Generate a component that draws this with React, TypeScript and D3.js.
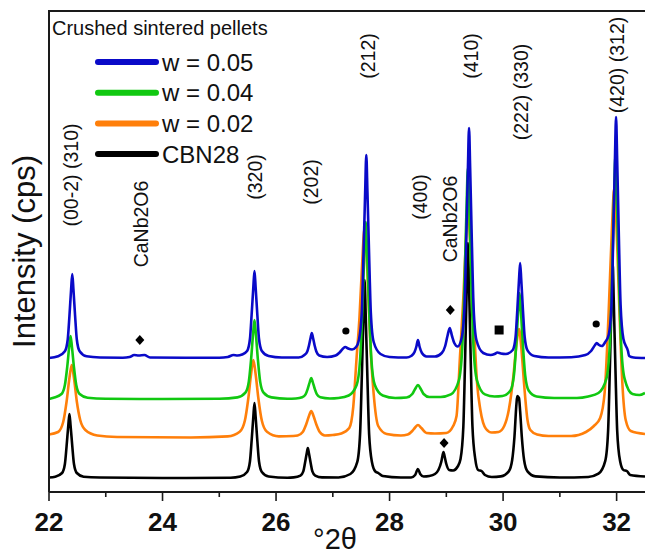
import React from "react";
import * as d3 from "d3";

type Pt = [number, number];

const X_DOMAIN: [number, number] = [22, 32.5];
const Y_DOMAIN: [number, number] = [0, 481];
const xMajorTicks = [22, 24, 26, 28, 30, 32];
const xMinorTicks = [23, 25, 27, 29, 31];

const seriesNames = ["w = 0.05", "w = 0.04", "w = 0.02", "CBN28"];
const seriesColors = ["#0a0ac8", "#11c811", "#ff7f0a", "#000000"];

const blueW005: Pt[] = [
  [22.0,134],[22.16,135.7],[22.28,140.7],[22.33,152.5],[22.36,176],[22.39,203],[22.41,218],[22.43,203],[22.46,176],[22.49,152.5],[22.54,140.7],[22.66,135.7],[22.9,134.5],[23.3,134.3],[23.42,135],[23.5,137],[23.58,136.5],[23.68,137],[23.78,134.5],[24.4,134.2],[25.0,134.3],[25.15,135],[25.25,137],[25.32,136.5],[25.4,137.5],[25.49,141],[25.54,153],[25.57,177.5],[25.6,205],[25.62,221],[25.64,205],[25.67,177.5],[25.70,153],[25.75,141],[25.87,136],[26.1,134.5],[26.4,134.5],[26.5,137],[26.55,140.5],[26.58,146.5],[26.61,154.5],[26.63,159],[26.65,154.5],[26.68,146.5],[26.71,140.5],[26.76,136.5],[26.9,135],[27.05,136.5],[27.12,139.5],[27.18,143.5],[27.22,145],[27.27,143.5],[27.34,142.5],[27.41,145],[27.46,152],[27.51,179],[27.54,236],[27.57,300],[27.59,337],[27.61,300],[27.64,236],[27.67,179],[27.72,150],[27.84,138],[28.0,135],[28.3,134.5],[28.38,136],[28.44,140],[28.47,145],[28.5,152],[28.53,145],[28.57,139],[28.65,135.5],[28.8,135.5],[28.92,139],[28.98,146],[29.02,156],[29.06,164],[29.10,156],[29.14,149],[29.2,145.5],[29.27,154],[29.32,185],[29.35,249],[29.38,323],[29.40,364],[29.42,323],[29.45,249],[29.48,185],[29.53,152],[29.65,139],[29.78,137],[29.85,138],[29.9,139.5],[29.96,138.5],[30.05,138],[30.17,142],[30.22,155],[30.25,181.5],[30.28,212],[30.30,229],[30.32,212],[30.35,181.5],[30.38,155],[30.43,141.6],[30.55,136],[30.8,134.5],[31.2,134.8],[31.45,137],[31.55,141],[31.62,147],[31.65,149],[31.69,147],[31.74,146],[31.8,150],[31.86,157],[31.91,187],[31.94,254],[31.97,331],[31.99,375],[32.01,331],[32.04,254],[32.07,187],[32.12,153],[32.2,141],[32.22,136],[32.3,134.5],[32.5,134]
];

const greenW004: Pt[] = [
  [22.0,93],[22.08,94.3],[22.22,98],[22.28,107],[22.32,124.5],[22.355,144.7],[22.38,156],[22.405,144.7],[22.44,124.5],[22.48,107],[22.54,98],[22.68,94.3],[23.0,93.2],[24.0,93],[25.0,93.3],[25.32,94.6],[25.46,99.3],[25.52,110.4],[25.56,132.5],[25.595,157.8],[25.62,172],[25.645,157.8],[25.68,132.5],[25.72,110.4],[25.78,99.3],[25.92,94.6],[26.2,93.2],[26.35,93.5],[26.46,94.7],[26.52,97.6],[26.56,103.5],[26.595,110.2],[26.62,114],[26.645,110.2],[26.68,103.5],[26.72,97.6],[26.78,94.7],[26.95,93.5],[27.1,94],[27.28,96.5],[27.42,107],[27.48,132],[27.52,181.5],[27.555,238],[27.58,270],[27.605,238],[27.64,181.5],[27.68,132],[27.74,107],[27.88,96.5],[28.1,94],[28.3,94.5],[28.4,98],[28.45,103],[28.5,107],[28.55,103],[28.6,98],[28.7,95],[28.9,95],[29.08,97.6],[29.22,111.5],[29.28,143.8],[29.32,208.5],[29.355,282.4],[29.38,324],[29.405,282.4],[29.44,208.5],[29.48,143.8],[29.54,111.5],[29.68,97.6],[29.85,95.5],[29.99,96],[30.13,101.5],[30.19,116.3],[30.23,146],[30.265,180],[30.29,199],[30.315,180],[30.35,146],[30.39,116.3],[30.45,101.5],[30.59,95.5],[30.9,94],[31.3,94],[31.5,95.5],[31.68,99],[31.82,113.4],[31.88,147.5],[31.92,215.5],[31.955,293],[31.98,337],[32.005,293],[32.04,215.5],[32.08,147.5],[32.14,113.4],[32.28,98],[32.4,97],[32.5,99]
];

const orangeW002: Pt[] = [
  [22.0,57.5],[22.16,60],[22.25,70],[22.31,90.5],[22.36,114],[22.40,127],[22.44,114],[22.49,90.5],[22.55,72],[22.64,62],[22.85,56.5],[23.2,55],[24.5,54.5],[25.15,55.6],[25.36,60.2],[25.45,71.2],[25.51,93],[25.56,118],[25.60,132],[25.64,118],[25.69,93],[25.75,71.2],[25.84,60.2],[26.05,55.6],[26.3,56],[26.38,56.5],[26.47,60],[26.53,67.5],[26.58,76],[26.62,81],[26.66,76],[26.71,67.5],[26.77,60],[26.86,56.5],[27.0,57],[27.15,58.5],[27.29,64],[27.36,85],[27.42,135],[27.47,175],[27.515,226],[27.56,264],[27.605,226],[27.66,150],[27.72,98],[27.8,66],[27.95,58],[28.2,56.5],[28.32,57.5],[28.4,61],[28.45,64.5],[28.5,67],[28.56,64],[28.65,59],[28.8,58.5],[29.0,59],[29.12,66],[29.18,76],[29.24,135],[29.30,195],[29.34,245],[29.38,285],[29.425,243],[29.48,175],[29.54,110],[29.6,82],[29.7,63],[29.8,59.5],[29.92,60],[30.02,66],[30.1,82],[30.18,115],[30.24,150],[30.28,163],[30.32,145],[30.37,108],[30.43,72],[30.48,62],[30.6,57.5],[30.8,56],[31.2,56],[31.46,60],[31.6,66],[31.71,74],[31.79,100],[31.86,180],[31.915,260],[31.96,305],[32.005,255],[32.05,180],[32.1,110],[32.16,72],[32.25,61],[32.5,58]
];

const blackCBN28: Pt[] = [
  [22.0,14.5],[22.11,15.3],[22.23,19],[22.28,28],[22.31,46],[22.34,66.5],[22.36,78],[22.38,66.5],[22.41,46],[22.44,28],[22.49,19],[22.61,15.3],[22.9,14.5],[24.0,14],[25.2,14.3],[25.37,15.5],[25.49,20],[25.54,30.5],[25.57,51.5],[25.60,75.5],[25.62,89],[25.64,75.5],[25.67,51.5],[25.70,30.5],[25.75,20],[25.87,15.5],[26.2,14.3],[26.31,14.6],[26.43,16.4],[26.48,20.6],[26.51,29],[26.54,38.6],[26.56,44],[26.58,38.6],[26.61,29],[26.64,20.6],[26.69,16.4],[26.81,14.6],[27.1,14.5],[27.31,18],[27.43,29.8],[27.48,57.6],[27.51,113],[27.54,176],[27.56,212],[27.58,176],[27.61,113],[27.64,57.6],[27.69,29.8],[27.75,20.5],[27.8,19],[27.88,16],[28.2,14.5],[28.38,14.5],[28.45,17],[28.5,23],[28.54,18],[28.6,15.5],[28.7,16],[28.8,18],[28.86,22],[28.91,30],[28.93,35.5],[28.95,40],[28.97,35.5],[29.0,28],[29.05,22],[29.12,21.5],[29.2,25.5],[29.25,33],[29.30,65.7],[29.33,131.5],[29.36,206.7],[29.38,249],[29.40,206.7],[29.43,131.5],[29.46,65.7],[29.51,32.8],[29.56,22],[29.62,21],[29.68,17],[29.8,15],[29.96,15.6],[30.1,20.6],[30.16,32],[30.2,55],[30.235,88],[30.25,96],[30.28,94],[30.30,81],[30.33,55],[30.37,32],[30.43,20.6],[30.57,15.6],[31.0,14.5],[31.5,15],[31.68,18.3],[31.80,31.2],[31.85,61.3],[31.88,121.5],[31.91,190],[31.93,229],[31.95,190],[31.98,121.5],[32.01,61.3],[32.06,31.2],[32.12,22],[32.18,21],[32.24,17],[32.5,15.5]
];

const seriesData = [blueW005, greenW004, orangeW002, blackCBN28];

// peak annotations (vertical text)
const peakLabelText = ["(00-2) (310)", "CaNb2O6", "(320)", "(202)", "(212)", "(400)", "CaNb2O6", "(410)", "(222) (330)", "(420) (312)"];
const peakLabelX = [22.39, 23.62, 25.63, 26.62, 27.62, 28.54, 29.07, 29.43, 30.32, 32.0];
const peakLabelY = [317, 268, 315, 310, 436, 295, 273, 436, 400, 427];

// phase markers
const diamondMarks: Pt[] = [[23.6, 152], [29.07, 182], [28.96, 49]];
const dotMarks: Pt[] = [[27.23, 161], [31.64, 168]];
const squareMarks: Pt[] = [[29.93, 162]];

const W = 645, H = 554;
const L = 49, R = 645, T = 11, B = 492;
const FONT = "'Liberation Sans', Arial, Helvetica, sans-serif";

export default function App() {
  const x = d3.scaleLinear().domain(X_DOMAIN).range([L, R]);
  const y = d3.scaleLinear().domain(Y_DOMAIN).range([B, T]);
  const line = d3.line<Pt>().x(d => x(d[0])).y(d => y(d[1])).curve(d3.curveMonotoneX);
  const drawOrder = [3, 2, 1, 0];

  return (
    <svg width={W} height={H} style={{ position: "absolute", left: 0, top: 0, background: "#fff" }} fontFamily={FONT}>
      <defs>
        <clipPath id="plotclip">
          <rect x={L} y={T} width={R - L} height={B - T} />
        </clipPath>
      </defs>
      <rect x={0} y={0} width={W} height={H} fill="#fff" />
      <g clipPath="url(#plotclip)">
        {drawOrder.map(i => (
          <path key={i} d={line(seriesData[i]) || ""} fill="none" stroke={seriesColors[i]} strokeWidth={2.6} strokeLinejoin="round" />
        ))}
      </g>
      {/* frame */}
      <path d={`M${L},${B} L${L},${T} L${R + 2},${T}`} fill="none" stroke="#1a1a1a" strokeWidth={2} />
      <line x1={L} x2={R + 2} y1={B} y2={B} stroke="#1a1a1a" strokeWidth={2} />
      {xMajorTicks.map(t => (
        <g key={"M" + t}>
          <line x1={x(t)} x2={x(t)} y1={B} y2={B + 9} stroke="#1a1a1a" strokeWidth={1.6} />
          <text x={x(t)} y={531} textAnchor="middle" fontSize={26} fontWeight="bold" fill="#111">{t}</text>
        </g>
      ))}
      {xMinorTicks.map(t => (
        <line key={"m" + t} x1={x(t)} x2={x(t)} y1={B} y2={B + 5} stroke="#1a1a1a" strokeWidth={1.6} />
      ))}
      <text x={335} y={549} textAnchor="middle" fontSize={29} fill="#111">°2θ</text>
      <text transform={`translate(35,251.5) rotate(-90)`} textAnchor="middle" fontSize={31} fill="#111">Intensity (cps)</text>

      {/* peak labels */}
      {peakLabelText.map((t, i) => (
        <text key={"p" + i} transform={`translate(${x(peakLabelX[i])},${y(peakLabelY[i])}) rotate(-90)`} textAnchor="middle" dominantBaseline="central" fontSize={19.5} fill="#111">{t}</text>
      ))}

      {/* markers */}
      {diamondMarks.map((d, i) => (
        <path key={"d" + i} d={`M${x(d[0])},${y(d[1]) - 5} l4.5,5 l-4.5,5 l-4.5,-5 Z`} fill="#000" />
      ))}
      {dotMarks.map((d, i) => (
        <circle key={"c" + i} cx={x(d[0])} cy={y(d[1])} r={3.6} fill="#000" />
      ))}
      {squareMarks.map((d, i) => (
        <rect key={"s" + i} x={x(d[0]) - 4.5} y={y(d[1]) - 4.5} width={9} height={9} fill="#000" />
      ))}

      {/* legend */}
      <text x={52} y={35} fontSize={20} fill="#111">Crushed sintered pellets</text>
      {seriesNames.map((n, i) => {
        const ly = 62 + i * 30.7;
        return (
          <g key={"l" + i}>
            <line x1={98} x2={156} y1={ly} y2={ly} stroke={seriesColors[i]} strokeWidth={6} strokeLinecap="round" />
            <text x={162} y={ly} dominantBaseline="central" fontSize={24} fill="#111">{n}</text>
          </g>
        );
      })}
    </svg>
  );
}
